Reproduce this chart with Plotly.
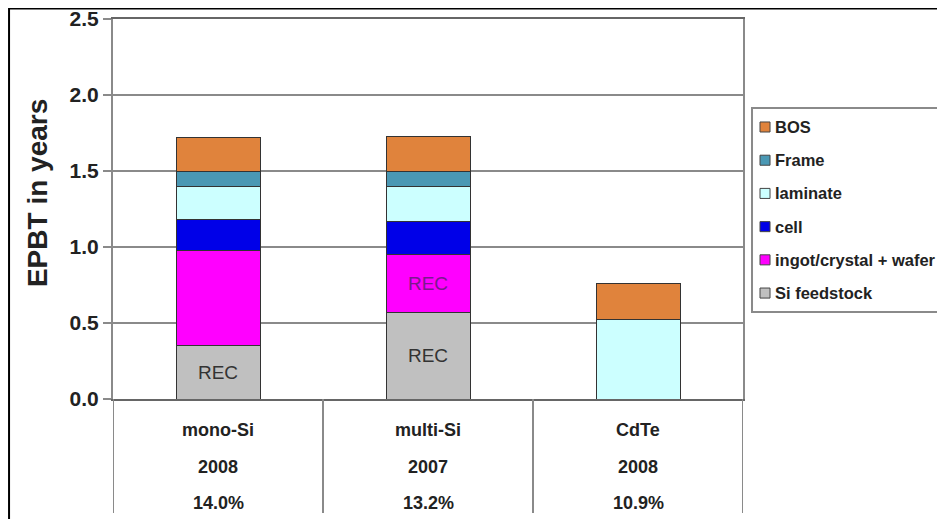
import plotly.graph_objects as go

# данные
categories = ['mono-Si', 'multi-Si', 'CdTe']
years = ['2008', '2007', '2008']
efficiencies = ['14.0%', '13.2%', '10.9%']

si_feedstock = [0.35, 0.57, 0]
ingot_wafer = [0.63, 0.38, 0]
cell = [0.20, 0.22, 0]
laminate = [0.22, 0.23, 0.52]
frame = [0.10, 0.10, 0]
bos = [0.22, 0.23, 0.24]

si_labels = ['REC', 'REC', '']
ingot_labels = ['', 'REC', '']

FONT = "Arial, 'Liberation Sans', sans-serif"
GRID = '#8a8a8a'
OUTLINE = '#333333'

fig = go.Figure()

series = [
    ('Si feedstock', si_feedstock, '#c0c0c0', si_labels, '#333333'),
    ('ingot/crystal + wafer', ingot_wafer, '#ff00ff', ingot_labels, '#7a1a8c'),
    ('cell', cell, '#0000e8', None, None),
    ('laminate', laminate, '#ccffff', None, None),
    ('Frame', frame, '#4a98b4', None, None),
    ('BOS', bos, '#e0833c', None, None),
]

for name, vals, color, labels, tcolor in series:
    fig.add_trace(go.Bar(
        x=categories,
        y=vals,
        name=name,
        showlegend=False,
        width=0.4,
        marker=dict(color=color, line=dict(color=OUTLINE, width=1)),
        text=labels,
        textposition='inside' if labels else 'none',
        insidetextanchor='middle',
        textangle=0,
        textfont=dict(family=FONT, size=19, color=tcolor or '#333'),
        hoverinfo='name+y',
    ))

# легенда вручную (чтобы совпали отступы): сверху BOS, снизу Si feedstock
fig.add_shape(type='rect', xref='paper', yref='paper',
              x0=1.0143, x1=1.45, y0=0.229, y1=0.766,
              line=dict(color=GRID, width=2), fillcolor='white', layer='below')
leg_top = 0.7158
leg_step = 0.0874
for k, (name, vals, color, labels, tcolor) in enumerate(reversed(series)):
    yc = leg_top - k * leg_step
    fig.add_shape(type='rect', xref='paper', yref='paper',
                  x0=1.0270, x1=1.0429, y0=yc - 0.0132, y1=yc + 0.0132,
                  line=dict(color='#444', width=1), fillcolor=color)
    fig.add_annotation(
        x=1.0476, y=yc, xref='paper', yref='paper',
        xanchor='left', yanchor='middle',
        text=name, showarrow=False,
        font=dict(family=FONT, size=16.5, color='#222'),
    )

# таблица под осью
rows = [(categories, -0.082), (years, -0.179), (efficiencies, -0.274)]
for labels, ypos in rows:
    for cat, lab in zip(categories, labels):
        fig.add_annotation(
            x=cat, y=ypos, xref='x', yref='paper',
            xanchor='center', yanchor='middle',
            text=lab, showarrow=False,
            font=dict(family=FONT, size=18, color='#222'),
        )

# вертикальные разделители таблицы
for xb in [-0.5, 0.5, 1.5, 2.5]:
    fig.add_shape(type='line', xref='x', yref='paper',
                  x0=xb, x1=xb, y0=0, y1=-0.3,
                  line=dict(color=GRID, width=2))

# подпись оси Y
fig.add_annotation(
    x=-0.1206, y=0.542, xref='paper', yref='paper',
    xanchor='center', yanchor='middle',
    text='EPBT in years', textangle=-90, showarrow=False,
    font=dict(family=FONT, size=28, color='#222'),
)

# внешняя рамка
fig.add_shape(type='rect', xref='paper', yref='paper',
              x0=-0.165, x1=1.5, y0=-0.4, y1=1.0276,
              line=dict(color='black', width=2))

# страница добавляет 8px отступа, поэтому фигура чуть меньше окна
fig.update_layout(
    width=937, height=511,
    margin=dict(l=105, r=202, t=11, b=120, autoexpand=False),
    barmode='stack',
    plot_bgcolor='white',
    paper_bgcolor='white',
    font=dict(family=FONT, color='#222'),
    showlegend=False,
    xaxis=dict(
        range=[-0.5, 2.5],
        showticklabels=False,
        showgrid=False,
        showline=True, linecolor='#666', linewidth=2,
        mirror=True,
        ticks='',
    ),
    yaxis=dict(
        range=[0, 2.5],
        dtick=0.5,
        tickformat='.1f',
        showgrid=True, gridcolor=GRID, gridwidth=1.5,
        showline=True, linecolor=GRID, linewidth=2,
        mirror=True,
        ticks='outside', ticklen=8, tickcolor=GRID, tickwidth=2,
        tickfont=dict(family=FONT, size=21, color='#222', weight='bold'),
        ticklabeloverflow='allow',
        zeroline=False,
    ),
)

for ann in fig.layout.annotations:
    ann.font.weight = 'bold'

fig.write_html("out.html")
